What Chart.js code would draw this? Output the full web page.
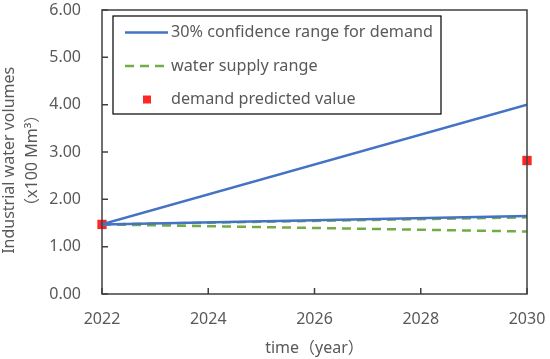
<!DOCTYPE html>
<html>
<head>
<meta charset="utf-8">
<script src="https://cdn.jsdelivr.net/npm/chart.js@4"></script>
<style>
	html, body { margin: 0; padding: 0; background: #fff; }
	#wrap { width: 550px; height: 359px; }
</style>
</head>
<body>
<div id="wrap"><canvas id="chart" width="550" height="359"></canvas></div>
<script>
const years = [2022, 2030];
const demandUpper = [1.47, 4.00];
const demandLower = [1.47, 1.65];
const supplyUpper = [1.47, 1.62];
const supplyLower = [1.47, 1.32];
const predicted = [1.47, 2.82];
const legendLabels = ['30% confidence range for demand', 'water supply range', 'demand predicted value'];

const blue = '#4472C4';
const green = '#70AD47';
const red = 'rgba(255, 0, 0, 0.85)';
const textColor = '#595959';
const fontFamily = "'Noto Sans', 'Noto Sans CJK SC', sans-serif";

function toPoints(values) {
	return values.map((v, i) => ({ x: years[i], y: v }));
}

// frame, inward tick marks and the boxed legend inside the plot
const framePlugin = {
	id: 'frame',
	afterDraw(chart) {
		const ctx = chart.ctx;
		const area = chart.chartArea;
		const xs = chart.scales.x;
		const ys = chart.scales.y;
		ctx.save();
		ctx.strokeStyle = '#404040';
		ctx.lineWidth = 1.5;
		ctx.strokeRect(area.left, area.top, area.right - area.left, area.bottom - area.top);
		ctx.beginPath();
		ys.ticks.forEach((t) => {
			const y = ys.getPixelForValue(t.value);
			ctx.moveTo(area.left, y);
			ctx.lineTo(area.left + 6, y);
		});
		xs.ticks.forEach((t) => {
			const x = xs.getPixelForValue(t.value);
			ctx.moveTo(x, area.bottom);
			ctx.lineTo(x, area.bottom - 6);
		});
		ctx.stroke();

		// legend
		const lx = area.left + 11, ly = area.top + 6, lw = 328, lh = 98;
		ctx.fillStyle = '#fff';
		ctx.fillRect(lx, ly, lw, lh);
		ctx.strokeStyle = '#000';
		ctx.lineWidth = 1.2;
		ctx.strokeRect(lx, ly, lw, lh);
		ctx.font = '16.2px ' + fontFamily;
		ctx.textBaseline = 'middle';
		const rows = [ly + 16.5, ly + 50, ly + 83.5];
		legendLabels.forEach((label, i) => {
			const y = rows[i];
			if (i === 0 || i === 1) {
				ctx.beginPath();
				ctx.strokeStyle = i === 0 ? blue : green;
				ctx.lineWidth = 2.5;
				ctx.setLineDash(i === 1 ? [9, 6] : []);
				ctx.moveTo(lx + 12, y);
				ctx.lineTo(lx + 55, y);
				ctx.stroke();
				ctx.setLineDash([]);
			} else {
				ctx.fillStyle = red;
				ctx.fillRect(lx + 30, y - 4, 8, 8);
			}
			ctx.fillStyle = textColor;
			ctx.fillText(label, lx + 58, y);
		});
		ctx.restore();
	}
};

new Chart(document.getElementById('chart').getContext('2d'), {
	type: 'line',
	data: {
		datasets: [
			{ label: legendLabels[0], data: toPoints(demandUpper), borderColor: blue, borderWidth: 2.5, pointRadius: 0 },
			{ label: legendLabels[0], data: toPoints(demandLower), borderColor: blue, borderWidth: 2.5, pointRadius: 0 },
			{ label: legendLabels[1], data: toPoints(supplyUpper), borderColor: green, borderWidth: 2.5, borderDash: [9, 6], pointRadius: 0 },
			{ label: legendLabels[1], data: toPoints(supplyLower), borderColor: green, borderWidth: 2.5, borderDash: [9, 6], pointRadius: 0 },
			{
				label: legendLabels[2], data: toPoints(predicted), showLine: false,
				pointStyle: 'rect', pointRadius: 6.6, pointBackgroundColor: red, pointBorderWidth: 0, clip: false
			}
		]
	},
	options: {
		responsive: false,
		animation: false,
		layout: { padding: { top: 10, right: 23, left: 0, bottom: 0 } },
		plugins: {
			legend: { display: false },
			tooltip: { enabled: false }
		},
		scales: {
			x: {
				type: 'linear',
				min: 2022,
				max: 2030,
				grid: { display: false, drawTicks: false },
				border: { display: false },
				ticks: { stepSize: 2, padding: 16, color: textColor, font: { family: fontFamily, size: 16 }, callback: (v) => String(v) },
				title: { display: true, text: 'time（year）', color: textColor, font: { family: fontFamily, size: 16 }, padding: 1 },
				afterFit: (s) => { s.height = 65; s.paddingLeft = 0; s.paddingRight = 0; }
			},
			y: {
				min: 0,
				max: 6,
				grid: { display: false, drawTicks: false },
				border: { display: false },
				ticks: { stepSize: 1, padding: 21, color: textColor, font: { family: fontFamily, size: 16 }, callback: (v) => v.toFixed(2) },
				title: {
					display: true, text: ['Industrial water volumes    ', '（x100 Mm³）    '], color: textColor,
					font: { family: fontFamily, size: 16, lineHeight: 1.4 }, padding: { top: -1.5, bottom: 0 }
				},
				afterFit: (s) => { s.width = 102; s.paddingTop = 0; s.paddingBottom = 0; }
			}
		}
	},
	plugins: [framePlugin]
});
</script>
</body>
</html>
